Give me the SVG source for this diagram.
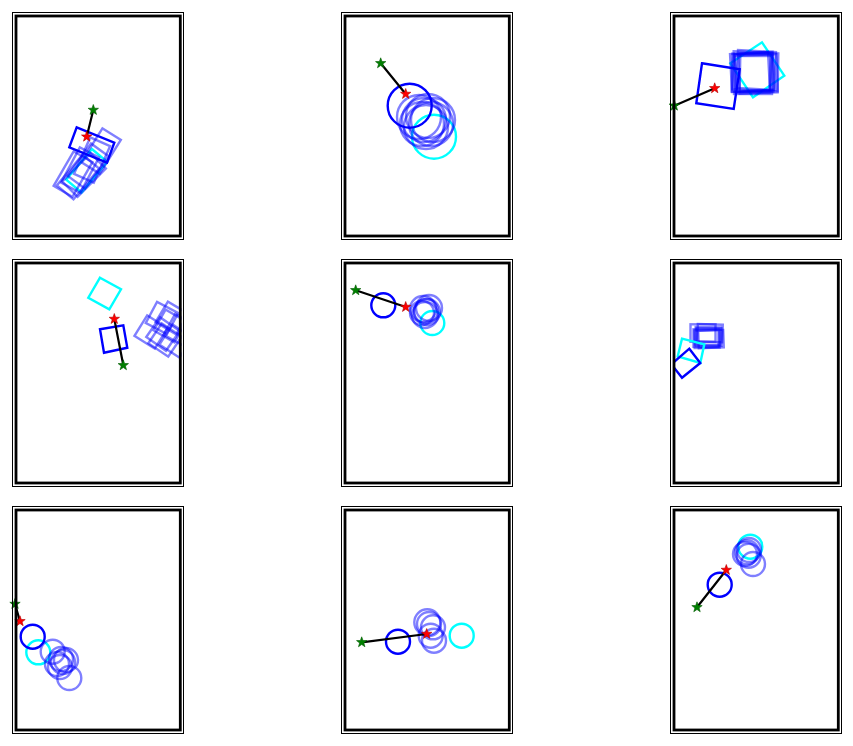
<svg xmlns="http://www.w3.org/2000/svg" width="853" height="746" viewBox="0 0 853 746">
<style>
.thin{fill:none;stroke:#000;stroke-width:1}
.thick{fill:none;stroke:#000;stroke-width:2.8}
.b{fill:none;stroke:#0000ff;stroke-width:2.4}
.ba{fill:none;stroke:#0000ff;stroke-width:2.4;stroke-opacity:0.5}
.c{fill:none;stroke:#00ffff;stroke-width:2.4}
.tr{fill:none;stroke:#000;stroke-width:2.2;stroke-linecap:round}
.gs{fill:#008000;stroke:#005a00;stroke-width:0.6}
.rs{fill:#ff0000;stroke:#b00000;stroke-width:0.6}
</style>
<defs>
<path id="star" d="M0,-5.5 L1.3,-1.8 L5.2,-1.7 L2.1,0.68 L3.23,4.45 L0,2.2 L-3.23,4.45 L-2.1,0.68 L-5.2,-1.7 L-1.3,-1.8 Z"/>
<clipPath id="c1"><rect x="16" y="16" width="164.3" height="220"/></clipPath>
<clipPath id="c4"><rect x="16" y="263" width="165.5" height="220"/></clipPath>
<clipPath id="c3"><rect x="674" y="16" width="164.3" height="220"/></clipPath>
<clipPath id="c6"><rect x="673" y="263" width="164.3" height="220"/></clipPath>
<clipPath id="c7"><rect x="16" y="510" width="164.3" height="220"/></clipPath>
</defs>
<rect width="853" height="746" fill="#fff"/>

<g id="panel1">
<g clip-path="url(#c1)">
<rect class="c" x="-10" y="-20" width="20" height="40" transform="translate(86.7,170.7) rotate(40)"/>
<rect class="ba" x="-10.8" y="-20" width="21.7" height="40" transform="translate(101,151) rotate(32)"/>
<rect class="ba" x="-10.8" y="-20" width="21.7" height="40" transform="translate(92,160) rotate(24)"/>
<rect class="ba" x="-10.8" y="-20" width="21.7" height="40" transform="translate(88,166) rotate(36)"/>
<rect class="ba" x="-10.8" y="-20" width="21.7" height="40" transform="translate(80,170) rotate(28)"/>
<rect class="ba" x="-10.8" y="-20" width="21.7" height="40" transform="translate(78,177) rotate(40)"/>
<rect class="ba" x="-10.8" y="-20" width="21.7" height="40" transform="translate(73,174) rotate(30)"/>
<rect class="ba" x="-10.8" y="-20" width="21.7" height="40" transform="translate(84,175) rotate(45)"/>
<polygon class="b" points="76.7,127.3 114.3,142.7 107,162.7 69.3,147.3"/>
</g>
<line class="tr" x1="93.3" y1="110" x2="86.7" y2="136.7"/>
<use href="#star" class="gs" x="93.3" y="110"/>
<use href="#star" class="rs" x="86.7" y="136.7"/>
<rect class="thin" x="12.5" y="12.5" width="171" height="227"/>
<rect class="thick" x="16" y="16" width="164.3" height="220"/>
</g>

<g id="panel2">
<circle class="c" cx="434" cy="136.7" r="22"/>
<circle class="ba" cx="419" cy="117" r="22"/>
<circle class="ba" cx="424" cy="120" r="22"/>
<circle class="ba" cx="428" cy="116" r="22"/>
<circle class="ba" cx="431" cy="124" r="22"/>
<circle class="ba" cx="426" cy="127" r="22"/>
<circle class="ba" cx="433" cy="120" r="22"/>
<circle class="ba" cx="422" cy="124" r="22"/>
<circle class="b" cx="409.7" cy="105.7" r="22"/>
<line class="tr" x1="380.7" y1="63.3" x2="405.7" y2="94"/>
<use href="#star" class="gs" x="380.7" y="63.3"/>
<use href="#star" class="rs" x="405.7" y="94"/>
<rect class="thin" x="341.5" y="12.5" width="171" height="227"/>
<rect class="thick" x="345" y="16" width="164.3" height="220"/>
</g>

<g id="panel3">
<g clip-path="url(#c3)">
<polygon class="c" points="762,42.3 784.3,75.7 753,97.3 730.3,63.3"/>
<rect class="ba" x="-19" y="-19" width="38" height="38" transform="translate(750,72) rotate(-3)"/>
<rect class="ba" x="-19" y="-19" width="38" height="38" transform="translate(752,71) rotate(2)"/>
<rect class="ba" x="-19" y="-19" width="38" height="38" transform="translate(754,73) rotate(-1)"/>
<rect class="ba" x="-19" y="-19" width="38" height="38" transform="translate(756,70) rotate(3)"/>
<rect class="ba" x="-19" y="-19" width="38" height="38" transform="translate(758,74) rotate(-2)"/>
<rect class="ba" x="-19" y="-19" width="38" height="38" transform="translate(759,72) rotate(1)"/>
<rect class="ba" x="-19" y="-19" width="38" height="38" transform="translate(753,75) rotate(0)"/>
<rect class="ba" x="-19" y="-19" width="38" height="38" transform="translate(755,72) rotate(-4)"/>
<rect class="ba" x="-19" y="-19" width="38" height="38" transform="translate(751,73) rotate(1)"/>
<polygon class="b" points="702,63.3 739.7,69.3 733.7,109 696.3,103.3"/>
</g>
<line class="tr" x1="674.3" y1="105.7" x2="714.7" y2="88.3"/>
<use href="#star" class="gs" x="674.3" y="105.7"/>
<use href="#star" class="rs" x="714.7" y="88.3"/>
<rect class="thin" x="670.5" y="12.5" width="171" height="227"/>
<rect class="thick" x="674" y="16" width="164.3" height="220"/>
</g>

<g id="panel4">
<g clip-path="url(#c4)">
<polygon class="c" points="100,277.7 121,289.3 109.3,309.3 88.3,297.7"/>
<rect class="ba" x="-12" y="-12" width="24" height="24" transform="translate(151,332) rotate(32)"/>
<rect class="ba" x="-12" y="-12" width="24" height="24" transform="translate(162,318) rotate(28)"/>
<rect class="ba" x="-12" y="-12" width="24" height="24" transform="translate(163,334) rotate(35)"/>
<rect class="ba" x="-12" y="-12" width="24" height="24" transform="translate(170,326) rotate(30)"/>
<rect class="ba" x="-12" y="-12" width="24" height="24" transform="translate(176,341) rotate(33)"/>
<rect class="ba" x="-12" y="-12" width="24" height="24" transform="translate(180,330) rotate(29)"/>
<rect class="ba" x="-12" y="-12" width="24" height="24" transform="translate(172,318) rotate(31)"/>
<rect class="ba" x="-12" y="-12" width="24" height="24" transform="translate(165,340) rotate(34)"/>
<polygon class="b" points="100,329.3 123.3,325.3 127.3,347.7 104,352.7"/>
</g>
<line class="tr" x1="123.3" y1="365.3" x2="114.3" y2="319"/>
<use href="#star" class="gs" x="123.3" y="365.3"/>
<use href="#star" class="rs" x="114.3" y="319"/>
<rect class="thin" x="12.5" y="259.5" width="171" height="227"/>
<rect class="thick" x="16" y="263" width="164.3" height="220"/>
</g>

<g id="panel5">
<circle class="c" cx="432.3" cy="323" r="12"/>
<circle class="ba" cx="423" cy="309" r="13"/>
<circle class="ba" cx="427" cy="312" r="13"/>
<circle class="ba" cx="425" cy="315" r="13"/>
<circle class="ba" cx="429" cy="308" r="13"/>
<circle class="ba" cx="426" cy="311" r="12"/>
<circle class="ba" cx="422" cy="313" r="12"/>
<circle class="b" cx="383.3" cy="305.3" r="12"/>
<line class="tr" x1="355.7" y1="290.3" x2="405.7" y2="307"/>
<use href="#star" class="gs" x="355.7" y="290.3"/>
<use href="#star" class="rs" x="405.7" y="307"/>
<rect class="thin" x="341.5" y="259.5" width="171" height="227"/>
<rect class="thick" x="345" y="263" width="164.3" height="220"/>
</g>

<g id="panel6">
<g clip-path="url(#c6)">
<rect class="ba" x="-12.5" y="-8.7" width="25" height="17.5" transform="translate(703,333)"/>
<rect class="ba" x="-12.5" y="-8.7" width="25" height="17.5" transform="translate(710,333) rotate(2)"/>
<rect class="ba" x="-12.5" y="-8.7" width="25" height="17.5" transform="translate(711,339) rotate(-2)"/>
<rect class="ba" x="-12.5" y="-8.7" width="25" height="17.5" transform="translate(706,338)"/>
<rect class="ba" x="-12.5" y="-8.7" width="25" height="17.5" transform="translate(708,336) rotate(1)"/>
<rect class="ba" x="-12.5" y="-8.7" width="25" height="17.5" transform="translate(707,339) rotate(-1)"/>
<rect class="ba" x="-12.5" y="-8.7" width="25" height="17.5" transform="translate(709,337)"/>
<polygon class="c" points="682,338.7 704.3,344.3 700.3,363 677.7,356.3"/>
<polygon class="b" points="689.3,348.7 700.3,363 682,377.7 671.3,364.3"/>
</g>
<rect class="thin" x="670.5" y="259.5" width="171" height="227"/>
<rect class="thick" x="674" y="263" width="164.3" height="220"/>
</g>

<g id="panel7">
<g clip-path="url(#c7)">
<circle class="c" cx="38.3" cy="652.3" r="12"/>
<circle class="ba" cx="52.7" cy="651.7" r="12"/>
<circle class="ba" cx="57" cy="664" r="12"/>
<circle class="ba" cx="63" cy="662" r="12"/>
<circle class="ba" cx="66" cy="660" r="12"/>
<circle class="ba" cx="60" cy="667" r="12"/>
<circle class="ba" cx="69.3" cy="678" r="12"/>
<circle class="ba" cx="61" cy="659" r="12"/>
<circle class="b" cx="32.7" cy="636.7" r="12"/>
</g>
<line class="tr" x1="15" y1="604" x2="20" y2="621.3"/>
<use href="#star" class="gs" x="15" y="604"/>
<use href="#star" class="rs" x="20" y="621.3"/>
<rect class="thin" x="12.5" y="506.5" width="171" height="227"/>
<rect class="thick" x="16" y="510" width="164.3" height="220"/>
</g>

<g id="panel8">
<circle class="c" cx="461.7" cy="635.7" r="12"/>
<circle class="ba" cx="427.3" cy="622.3" r="13"/>
<circle class="ba" cx="433" cy="627.3" r="12"/>
<circle class="ba" cx="434" cy="640.7" r="12"/>
<circle class="ba" cx="430.7" cy="635.7" r="12"/>
<circle class="ba" cx="429" cy="624" r="12"/>
<circle class="b" cx="398" cy="641.7" r="12"/>
<line class="tr" x1="361.7" y1="642.3" x2="426.7" y2="634"/>
<use href="#star" class="gs" x="361.7" y="642.3"/>
<use href="#star" class="rs" x="426.7" y="634"/>
<rect class="thin" x="341.5" y="506.5" width="171" height="227"/>
<rect class="thick" x="345" y="510" width="164.3" height="220"/>
</g>

<g id="panel9">
<circle class="c" cx="750.3" cy="546.7" r="12"/>
<circle class="ba" cx="747" cy="552.3" r="12"/>
<circle class="ba" cx="748.7" cy="555.7" r="12"/>
<circle class="ba" cx="753" cy="564" r="12"/>
<circle class="ba" cx="745" cy="554" r="12"/>
<circle class="ba" cx="749" cy="550" r="12"/>
<circle class="b" cx="719.7" cy="584.7" r="12"/>
<line class="tr" x1="697" y1="607.3" x2="726.3" y2="570"/>
<use href="#star" class="gs" x="697" y="607.3"/>
<use href="#star" class="rs" x="726.3" y="570"/>
<rect class="thin" x="670.5" y="506.5" width="171" height="227"/>
<rect class="thick" x="674" y="510" width="164.3" height="220"/>
</g>
</svg>
